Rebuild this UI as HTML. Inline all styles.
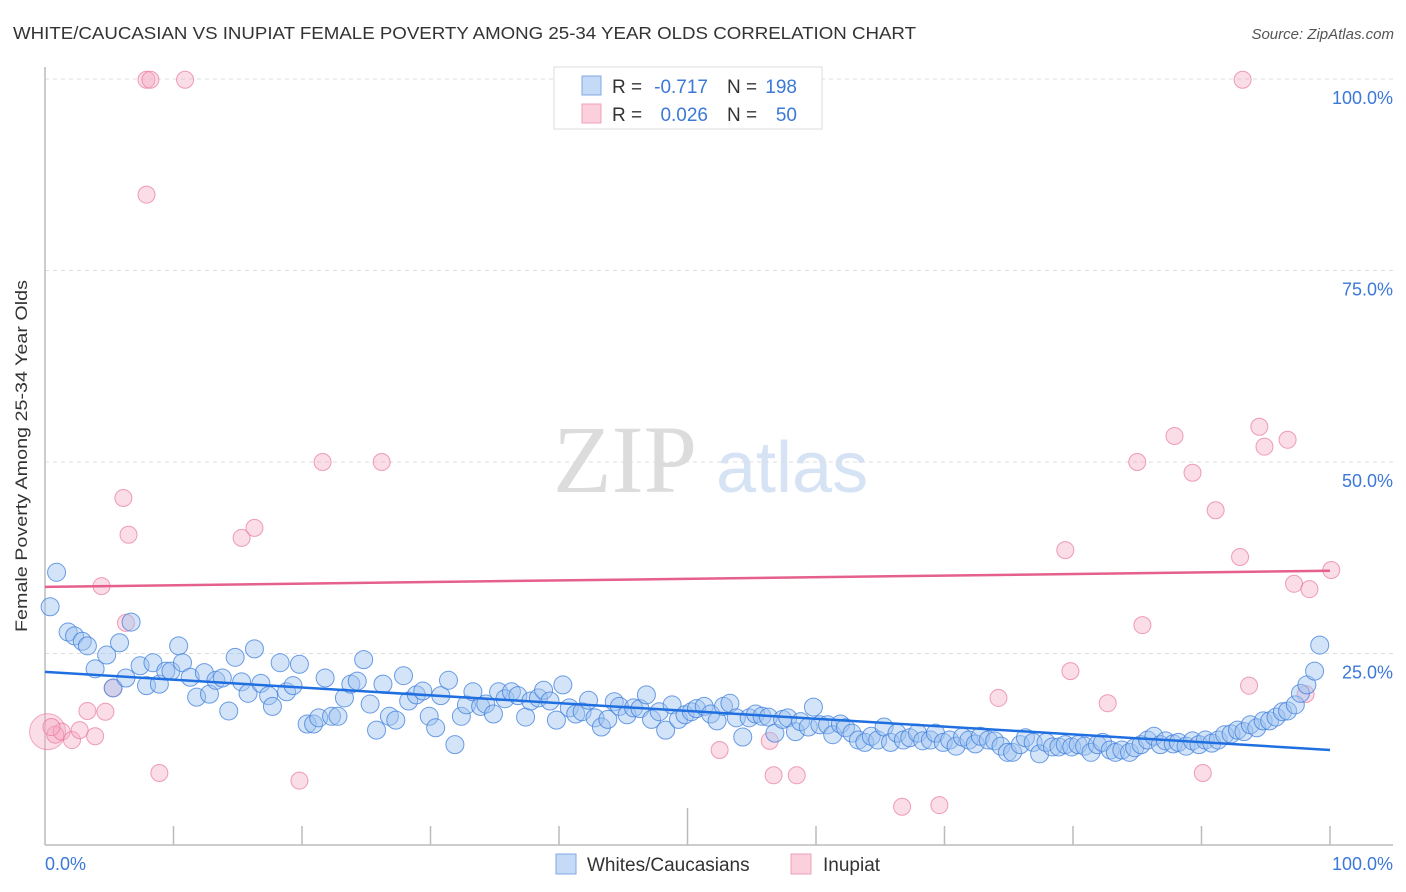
<!DOCTYPE html>
<html><head><meta charset="utf-8"><style>
body{margin:0;background:#fff;font-family:"Liberation Sans",sans-serif;}
svg{display:block}
</style></head><body>
<svg id="c" width="1406" height="892" viewBox="0 0 1406 892">
<text x="13" y="39" font-size="17.5" fill="#333" textLength="903" lengthAdjust="spacingAndGlyphs">WHITE/CAUCASIAN VS INUPIAT FEMALE POVERTY AMONG 25-34 YEAR OLDS CORRELATION CHART</text>
<text x="1394" y="39" font-size="15" fill="#555" font-style="italic" text-anchor="end">Source: ZipAtlas.com</text>
<g>
<text x="553" y="492" font-family="Liberation Serif,serif" font-size="96" fill="#dcdcdc">ZIP</text>
<text x="716" y="492" font-size="72" fill="#d5e3f5">atlas</text>
</g>
<g id="grid"></g>
<line x1="45" y1="67" x2="45" y2="845" stroke="#bbb" stroke-width="1.5"/>
<line x1="45" y1="845" x2="1393" y2="845" stroke="#bbb" stroke-width="1.5"/>
<g id="xticks"></g>
<text x="27" y="456" font-size="17" fill="#333" text-anchor="middle" transform="rotate(-90 27 456)" textLength="352" lengthAdjust="spacingAndGlyphs">Female Poverty Among 25-34 Year Olds</text>
<g id="ylabels"></g>
<text x="45" y="870" font-size="18" fill="#3b78d8">0.0%</text>
<text x="1393" y="870" font-size="18" fill="#3b78d8" text-anchor="end">100.0%</text>
<g id="pink"></g>
<g id="blue"></g>
<g id="lines"></g>
<g font-size="19">
<rect x="554" y="67" width="268" height="62" fill="#fff" stroke="#ddd"/>
<rect x="582" y="76" width="19" height="19" fill="#c5daf6" stroke="#7fa8e0"/>
<rect x="582" y="104" width="19" height="19" fill="#fbd0dc" stroke="#eda0b6"/>
<text x="612" y="93" fill="#333">R =</text>
<text x="708" y="93" fill="#3b78d8" text-anchor="end">-0.717</text>
<text x="727" y="93" fill="#333">N =</text>
<text x="797" y="93" fill="#3b78d8" text-anchor="end">198</text>
<text x="612" y="121" fill="#333">R =</text>
<text x="708" y="121" fill="#3b78d8" text-anchor="end">0.026</text>
<text x="727" y="121" fill="#333">N =</text>
<text x="797" y="121" fill="#3b78d8" text-anchor="end">50</text>
</g>
<g>
<rect x="556" y="854" width="20" height="20" fill="#c5daf6" stroke="#7fa8e0"/>
<text x="587" y="871" font-size="19" fill="#333">Whites/Caucasians</text>
<rect x="791" y="854" width="20" height="20" fill="#fbd0dc" stroke="#eda0b6"/>
<text x="823" y="871" font-size="19" fill="#333">Inupiat</text>
</g>
</svg>
<script>
const NS="http://www.w3.org/2000/svg";
const yTicks=[25,50,75,100];
const yTickLabels=["25.0%","50.0%","75.0%","100.0%"];
const xTicks=[10,20,30,40,50,60,70,80,90,100];
const bluePx=[[56,572],[50,607],[68,632],[75,636],[82,641],[88,646],[95,669],[107,655],[113,688],[119,643],[126,678],[131,622],[140,666],[146,686],[153,663],[160,684],[166,671],[171,671],[178,646],[183,663],[190,677],[197,697],[204,673],[210,694],[216,680],[222,678],[229,711],[235,657],[241,682],[248,693],[254,649],[261,683],[268,696],[273,706],[280,663],[286,692],[293,686],[299,664],[307,724],[313,724],[319,718],[325,678],[331,716],[338,716],[345,698],[351,684],[357,681],[364,660],[370,704],[377,730],[383,684],[389,716],[396,720],[403,676],[409,701],[416,695],[423,691],[429,716],[436,728],[441,696],[448,680],[455,745],[461,716],[467,705],[473,692],[480,706],[486,704],[493,714],[499,692],[505,699],[512,692],[518,696],[525,717],[531,701],[538,698],[544,690],[550,701],[557,720],[563,685],[569,708],[576,714],[582,712],[589,700],[595,718],[601,727],[608,719],[614,702],[620,706],[627,715],[633,708],[640,709],[646,695],[652,719],[659,712],[666,730],[672,705],[678,719],[685,715],[691,712],[697,709],[704,706],[710,714],[717,721],[723,706],[730,703],[736,718],[743,737],[749,718],[756,714],[762,716],[769,717],[775,733],[782,719],[788,718],[795,732],[801,722],[808,727],[814,707],[820,725],[827,725],[833,735],[840,724],[846,728],[852,733],[859,740],[865,742],[871,736],[878,740],[884,727],[891,742],[897,733],[904,740],[910,738],[917,733],[923,741],[930,740],[936,733],[943,742],[949,740],[956,746],[962,737],[969,740],[975,744],[981,736],[988,740],[994,741],[1001,746],[1007,752],[1013,752],[1020,745],[1026,738],[1033,742],[1039,754],[1046,742],[1052,747],[1059,747],[1065,745],[1072,747],[1078,745],[1084,746],[1091,752],[1097,745],[1103,742],[1110,750],[1116,752],[1122,750],[1129,752],[1135,748],[1141,745],[1148,740],[1154,736],[1160,745],[1166,741],[1173,744],[1179,742],[1186,746],[1192,741],[1199,745],[1205,740],[1212,743],[1218,740],[1224,735],[1231,734],[1237,730],[1244,732],[1250,725],[1257,728],[1263,721],[1270,721],[1276,717],[1282,712],[1288,711],[1295,705],[1301,693],[1307,685],[1314,671],[1320,645]];
const pinkPx=[[147,80],[151,80],[185,80],[1243,80],[147,195],[123,498],[129,535],[241,538],[255,528],[322,462],[382,462],[102,586],[126,623],[113,688],[55,735],[62,732],[72,740],[80,730],[87,711],[95,736],[106,712],[159,773],[299,781],[1137,462],[1174,436],[1193,473],[1216,510],[1259,427],[1264,447],[1288,440],[1065,550],[1240,557],[1142,625],[1331,570],[1294,584],[1309,589],[998,698],[1070,671],[1108,703],[1249,686],[1306,694],[719,750],[770,741],[774,775],[797,775],[902,807],[940,805],[1203,773],[52,727]];
const blueX=bluePx.map(p=>+((p[0]-45)/12.85).toFixed(1));
const blueY=bluePx.map(p=>+((845-p[1])/7.66).toFixed(1));
const pinkX=pinkPx.map(p=>+((p[0]-45)/12.85).toFixed(1));
const pinkY=pinkPx.map(p=>+((845-p[1])/7.66).toFixed(1));
const bigPinkX=[0.2], bigPinkY=[14.8];
const blueTrend=[22.6,12.4];
const pinkTrend=[33.7,35.8];
const sx=v=>45+v*12.85, sy=v=>845-v*7.66;
function el(t,a,p){const e=document.createElementNS(NS,t);for(const k in a)e.setAttribute(k,a[k]);p.appendChild(e);return e;}
const g=document.getElementById('grid');
yTicks.forEach((t,i)=>{
 const l=el('line',{x1:45,x2:1393,y1:sy(t),y2:sy(t),stroke:'#ddd','stroke-dasharray':'4,4'},g);
 
 
 const tx=el('text',{x:1393,y:sy(t)+25,'font-size':18,fill:'#3b78d8','text-anchor':'end'},document.getElementById('ylabels'));
 tx.textContent=yTickLabels[i];
 
 
});
xTicks.forEach(t=>{
 const l=el('line',{x1:sx(t),x2:sx(t),y1:(t==50?808:826),y2:845,stroke:'#bbb','stroke-width':1.5},document.getElementById('xticks'));
 
 
});
const pg=document.getElementById('pink');
bigPinkX.forEach((x,i)=>{
 const c=el('circle',{cx:sx(x),cy:sy(bigPinkY[i]),r:18,fill:'rgba(246,170,195,0.4)',stroke:'rgba(232,120,155,0.6)'},pg);
 
 
});
pinkX.forEach((x,i)=>{
 const c=el('circle',{cx:sx(x),cy:sy(pinkY[i]),r:8.5,fill:'rgba(246,170,195,0.4)',stroke:'rgba(232,120,155,0.7)'},pg);
 
 
});
const bg=document.getElementById('blue');
blueX.forEach((x,i)=>{
 const c=el('circle',{cx:sx(x),cy:sy(blueY[i]),r:9,fill:'rgba(160,195,240,0.45)',stroke:'rgba(60,125,220,0.75)'},bg);
 
 
});
const lg=document.getElementById('lines');
const bl=el('line',{x1:sx(0),x2:sx(100),y1:sy(blueTrend[0]),y2:sy(blueTrend[1]),stroke:'#1f6fe0','stroke-width':2.5},lg);


const pl=el('line',{x1:sx(0),x2:sx(100),y1:sy(pinkTrend[0]),y2:sy(pinkTrend[1]),stroke:'#e5608a','stroke-width':2.5},lg);


</script>
</body></html>
